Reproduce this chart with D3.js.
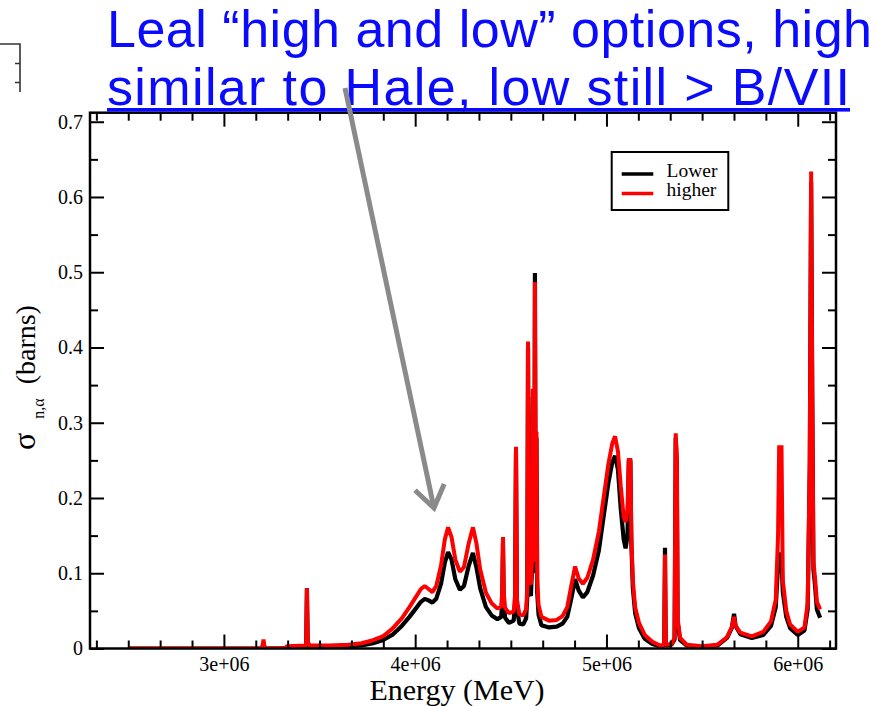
<!DOCTYPE html>
<html>
<head>
<meta charset="utf-8">
<script src="https://cdn.jsdelivr.net/npm/d3@7"></script>
<style>
  body { margin: 0; background: #fff; }
  svg { display: block; }
</style>
</head>
<body>
<svg id="chart" width="876" height="706"></svg>
<script>
// (n,alpha) cross section, two evaluation options
const energy = [
  2.50e6, 3.20e6, 3.207e6, 3.213e6, 3.32e6, 3.33e6, 3.430e6, 3.434e6, 3.438e6, 3.445e6,
  3.55e6, 3.65e6, 3.72e6, 3.78e6, 3.83e6, 3.88e6, 3.93e6, 3.97e6, 4.00e6, 4.03e6,
  4.05e6, 4.07e6, 4.09e6, 4.11e6, 4.135e6, 4.155e6, 4.172e6, 4.19e6, 4.21e6, 4.234e6,
  4.255e6, 4.28e6, 4.302e6, 4.32e6, 4.34e6, 4.37e6, 4.40e6, 4.43e6, 4.450e6, 4.455e6,
  4.459e6, 4.463e6, 4.470e6, 4.49e6, 4.515e6, 4.522e6, 4.527e6, 4.532e6, 4.545e6, 4.565e6,
  4.580e6, 4.586e6, 4.590e6, 4.594e6, 4.605e6, 4.611e6, 4.615e6, 4.619e6, 4.623e6, 4.626e6,
  4.630e6, 4.634e6, 4.638e6, 4.645e6, 4.66e6, 4.70e6, 4.74e6, 4.77e6, 4.795e6, 4.815e6,
  4.836e6, 4.855e6, 4.877e6, 4.90e6, 4.93e6, 4.96e6, 4.985e6, 5.01e6, 5.03e6, 5.045e6,
  5.06e6, 5.075e6, 5.09e6, 5.100e6, 5.110e6, 5.117e6, 5.121e6, 5.125e6, 5.130e6, 5.138e6,
  5.150e6, 5.17e6, 5.20e6, 5.24e6, 5.28e6, 5.302e6, 5.306e6, 5.310e6, 5.34e6, 5.356e6,
  5.362e6, 5.368e6, 5.372e6, 5.385e6, 5.42e6, 5.50e6, 5.58e6, 5.63e6, 5.655e6, 5.667e6,
  5.675e6, 5.70e6, 5.76e6, 5.82e6, 5.86e6, 5.885e6, 5.897e6, 5.903e6, 5.909e6, 5.915e6,
  5.922e6, 5.94e6, 5.96e6, 6.00e6, 6.035e6, 6.052e6, 6.063e6, 6.070e6, 6.076e6, 6.082e6,
  6.090e6, 6.100e6, 6.117e6
];

const sigmaLower = [
  0.000, 0.000, 0.008, 0.000, 0.000, 0.000, 0.003, 0.080, 0.010, 0.003,
  0.002, 0.003, 0.004, 0.007, 0.011, 0.018, 0.030, 0.042, 0.052, 0.062,
  0.066, 0.064, 0.061, 0.066, 0.086, 0.114, 0.128, 0.118, 0.092, 0.078,
  0.083, 0.110, 0.127, 0.108, 0.080, 0.055, 0.044, 0.039, 0.042, 0.065,
  0.140, 0.062, 0.041, 0.034, 0.037, 0.060, 0.260, 0.052, 0.033, 0.032,
  0.040, 0.068, 0.400, 0.075, 0.070, 0.108, 0.335, 0.100, 0.130, 0.499,
  0.150, 0.280, 0.075, 0.045, 0.031, 0.028, 0.029, 0.033, 0.042, 0.065,
  0.092, 0.077, 0.068, 0.075, 0.097, 0.130, 0.175, 0.220, 0.247, 0.256,
  0.238, 0.185, 0.145, 0.133, 0.150, 0.250, 0.195, 0.250, 0.140, 0.080,
  0.047, 0.027, 0.013, 0.006, 0.003, 0.004, 0.134, 0.004, 0.005, 0.012,
  0.280, 0.245, 0.035, 0.011, 0.004, 0.002, 0.004, 0.014, 0.027, 0.046,
  0.030, 0.019, 0.014, 0.018, 0.030, 0.055, 0.110, 0.125, 0.125, 0.118,
  0.075, 0.042, 0.027, 0.018, 0.024, 0.052, 0.240, 0.620, 0.330, 0.105,
  0.085, 0.052, 0.041
];

const sigmaHigher = [
  0.000, 0.000, 0.012, 0.000, 0.001, 0.003, 0.004, 0.080, 0.010, 0.004,
  0.004, 0.005, 0.007, 0.011, 0.016, 0.026, 0.040, 0.055, 0.067, 0.079,
  0.083, 0.079, 0.075, 0.083, 0.110, 0.145, 0.161, 0.148, 0.118, 0.102,
  0.108, 0.140, 0.161, 0.140, 0.105, 0.074, 0.060, 0.053, 0.056, 0.075,
  0.148, 0.075, 0.054, 0.047, 0.049, 0.070, 0.268, 0.065, 0.045, 0.044,
  0.052, 0.080, 0.408, 0.090, 0.085, 0.120, 0.345, 0.115, 0.140, 0.487,
  0.160, 0.288, 0.090, 0.058, 0.042, 0.037, 0.038, 0.043, 0.055, 0.082,
  0.109, 0.093, 0.086, 0.094, 0.118, 0.155, 0.200, 0.245, 0.272, 0.282,
  0.262, 0.215, 0.175, 0.168, 0.185, 0.253, 0.200, 0.253, 0.150, 0.090,
  0.055, 0.034, 0.018, 0.009, 0.004, 0.005, 0.125, 0.005, 0.006, 0.014,
  0.286, 0.250, 0.040, 0.014, 0.005, 0.003, 0.005, 0.015, 0.028, 0.042,
  0.030, 0.021, 0.016, 0.022, 0.036, 0.065, 0.150, 0.270, 0.200, 0.270,
  0.090, 0.050, 0.032, 0.022, 0.028, 0.060, 0.250, 0.634, 0.335, 0.115,
  0.095, 0.062, 0.052
];

const seriesNames = ["Lower", "higher"];
const seriesColors = ["#000000", "#ff0000"];

const xTickValues = [3e6, 4e6, 5e6, 6e6];
const xTickLabels = ["3e+06", "4e+06", "5e+06", "6e+06"];
const yTickValues = [0, 0.1, 0.2, 0.3, 0.4, 0.5, 0.6, 0.7];
const yTickLabels = ["0", "0.1", "0.2", "0.3", "0.4", "0.5", "0.6", "0.7"];

const titleLines = ["Leal \u201chigh and low\u201d options, high", "similar to Hale, low still > B/VII"];
const xLabel = "Energy (MeV)";

// ---- layout ----
const svg = d3.select("#chart");
const frame = { left: 90, right: 836, top: 112.7, bottom: 648.5 };
const serif = "'Liberation Serif', 'Times New Roman', serif";
const sans = "'Liberation Sans', Arial, sans-serif";

const x = d3.scaleLinear().domain([2.3e6, 6.2e6]).range([frame.left, frame.right]);
const y = d3.scaleLinear().domain([0, 0.712]).range([frame.bottom, frame.top]);

// fragment of a neighbouring table in the top-left corner
const frag = svg.append("g").attr("stroke", "#333").attr("stroke-width", 1.6).attr("fill", "none");
frag.append("path").attr("d", "M0,44H20V92");
frag.append("path").attr("d", "M15,63.5H20M15,82.5H20");

// ---- curves ----
svg.append("defs").append("clipPath").attr("id", "plotclip")
  .append("rect")
  .attr("x", frame.left).attr("y", frame.top)
  .attr("width", frame.right - frame.left).attr("height", frame.bottom - frame.top);

const line = d3.line().x(d => x(d[0])).y(d => y(d[1]));
const seriesValues = [sigmaLower, sigmaHigher];
const seriesWidths = [4.2, 4];

const curves = svg.append("g").attr("clip-path", "url(#plotclip)");
seriesValues.forEach((vals, k) => {
  curves.append("path")
    .datum(energy.map((e, i) => [e, vals[i]]))
    .attr("fill", "none")
    .attr("stroke", seriesColors[k])
    .attr("stroke-width", seriesWidths[k])
    .attr("stroke-linejoin", "bevel")
    .attr("d", line);
});

// ---- axes (ticks point inward, mirrored on all four sides) ----
// minor ticks every 1/6 of a major x interval, halfway between major y ticks
const xMinorTicks = d3.range(13, 38).map(k => k * 1e6 / 6)
  .filter(v => v >= 2.3e6 && v <= 6.2e6 && Math.abs(v / 1e6 - Math.round(v / 1e6)) > 1e-6);
const yMinorTicks = d3.range(0.05, 0.712, 0.1);

function styleAxis(g) {
  g.select(".domain").remove();
  g.selectAll(".tick line").attr("stroke", "#000").attr("stroke-width", 2);
  g.selectAll(".tick text").attr("fill", "#000").style("font-family", serif).style("font-size", "20px");
}

const MAJ = 14, MIN = 8;
svg.append("g").attr("transform", `translate(0,${frame.bottom})`)
  .call(d3.axisBottom(x).tickValues(xTickValues).tickSizeInner(-MAJ).tickSizeOuter(0).tickPadding(8)
    .tickFormat((d, i) => xTickLabels[i]))
  .call(styleAxis);
svg.append("g").attr("transform", `translate(0,${frame.bottom})`)
  .call(d3.axisBottom(x).tickValues(xMinorTicks).tickSizeInner(-MIN).tickSizeOuter(0).tickFormat(""))
  .call(styleAxis);
svg.append("g").attr("transform", `translate(0,${frame.top})`)
  .call(d3.axisTop(x).tickValues(xTickValues).tickSizeInner(-MAJ).tickSizeOuter(0).tickFormat(""))
  .call(styleAxis);
svg.append("g").attr("transform", `translate(0,${frame.top})`)
  .call(d3.axisTop(x).tickValues(xMinorTicks).tickSizeInner(-MIN).tickSizeOuter(0).tickFormat(""))
  .call(styleAxis);

svg.append("g").attr("transform", `translate(${frame.left},0)`)
  .call(d3.axisLeft(y).tickValues(yTickValues).tickSizeInner(-MAJ).tickSizeOuter(0).tickPadding(7)
    .tickFormat((d, i) => yTickLabels[i]))
  .call(styleAxis);
svg.append("g").attr("transform", `translate(${frame.left},0)`)
  .call(d3.axisLeft(y).tickValues(yMinorTicks).tickSizeInner(-MIN).tickSizeOuter(0).tickFormat(""))
  .call(styleAxis);
svg.append("g").attr("transform", `translate(${frame.right},0)`)
  .call(d3.axisRight(y).tickValues(yTickValues).tickSizeInner(-MAJ).tickSizeOuter(0).tickFormat(""))
  .call(styleAxis);
svg.append("g").attr("transform", `translate(${frame.right},0)`)
  .call(d3.axisRight(y).tickValues(yMinorTicks).tickSizeInner(-MIN).tickSizeOuter(0).tickFormat(""))
  .call(styleAxis);

// frame
svg.append("rect")
  .attr("x", frame.left).attr("y", frame.top)
  .attr("width", frame.right - frame.left).attr("height", frame.bottom - frame.top)
  .attr("fill", "none").attr("stroke", "#000").attr("stroke-width", 2.5);

// axis titles
svg.append("text")
  .attr("x", 457).attr("y", 700)
  .attr("text-anchor", "middle")
  .style("font-family", serif).style("font-size", "30px")
  .text(xLabel);

const yl = svg.append("text")
  .attr("transform", "translate(35,450) rotate(-90)")
  .style("font-family", serif).style("font-size", "28px");
yl.append("tspan").style("font-size", "32px").text("\u03c3");
yl.append("tspan").attr("dx", 14).attr("dy", 9).style("font-size", "16px").text("n,\u03b1");
yl.append("tspan").attr("dx", 14).attr("dy", -9).text("(barns)");

// legend
const lg = svg.append("g");
lg.append("rect").attr("x", 611.7).attr("y", 152).attr("width", 116.6).attr("height", 58)
  .attr("fill", "#fff").attr("stroke", "#000").attr("stroke-width", 2);
seriesNames.forEach((name, k) => {
  const base = 176.5 + k * 19.5;
  lg.append("line").attr("x1", 621.7).attr("x2", 653.3).attr("y1", base - 2.5).attr("y2", base - 2.5)
    .attr("stroke", seriesColors[k]).attr("stroke-width", 3.3);
  lg.append("text").attr("x", 666.5).attr("y", base)
    .style("font-family", serif).style("font-size", "19.5px").text(name);
});

// headline text
const title = svg.append("g").style("font-family", sans).style("font-size", "52px").attr("fill", "#0a0aff");
title.append("text").attr("x", 107).attr("y", 47.2)
  .attr("textLength", 765).attr("lengthAdjust", "spacing").text(titleLines[0]);
title.append("text").attr("x", 107).attr("y", 105)
  .attr("textLength", 743).attr("lengthAdjust", "spacing").text(titleLines[1]);
title.append("rect").attr("x", 107).attr("y", 108).attr("width", 743).attr("height", 3.6);

// annotation arrow
const a0 = [345, 88], a1 = [434, 508];
const arrow = svg.append("g").attr("stroke", "#8a8a8a").attr("stroke-width", 5).attr("fill", "none");
arrow.append("line").attr("x1", a0[0]).attr("y1", a0[1]).attr("x2", a1[0]).attr("y2", a1[1]);
const ang = Math.atan2(a0[1] - a1[1], a0[0] - a1[0]);
const armLen = 26, spread = 35 * Math.PI / 180;
const armA = [a1[0] + armLen * Math.cos(ang + spread), a1[1] + armLen * Math.sin(ang + spread)];
const armB = [a1[0] + armLen * Math.cos(ang - spread), a1[1] + armLen * Math.sin(ang - spread)];
arrow.append("path").attr("stroke-linejoin", "miter")
  .attr("d", `M${armA[0]},${armA[1]}L${a1[0]},${a1[1]}L${armB[0]},${armB[1]}`);
</script>
</body>
</html>
